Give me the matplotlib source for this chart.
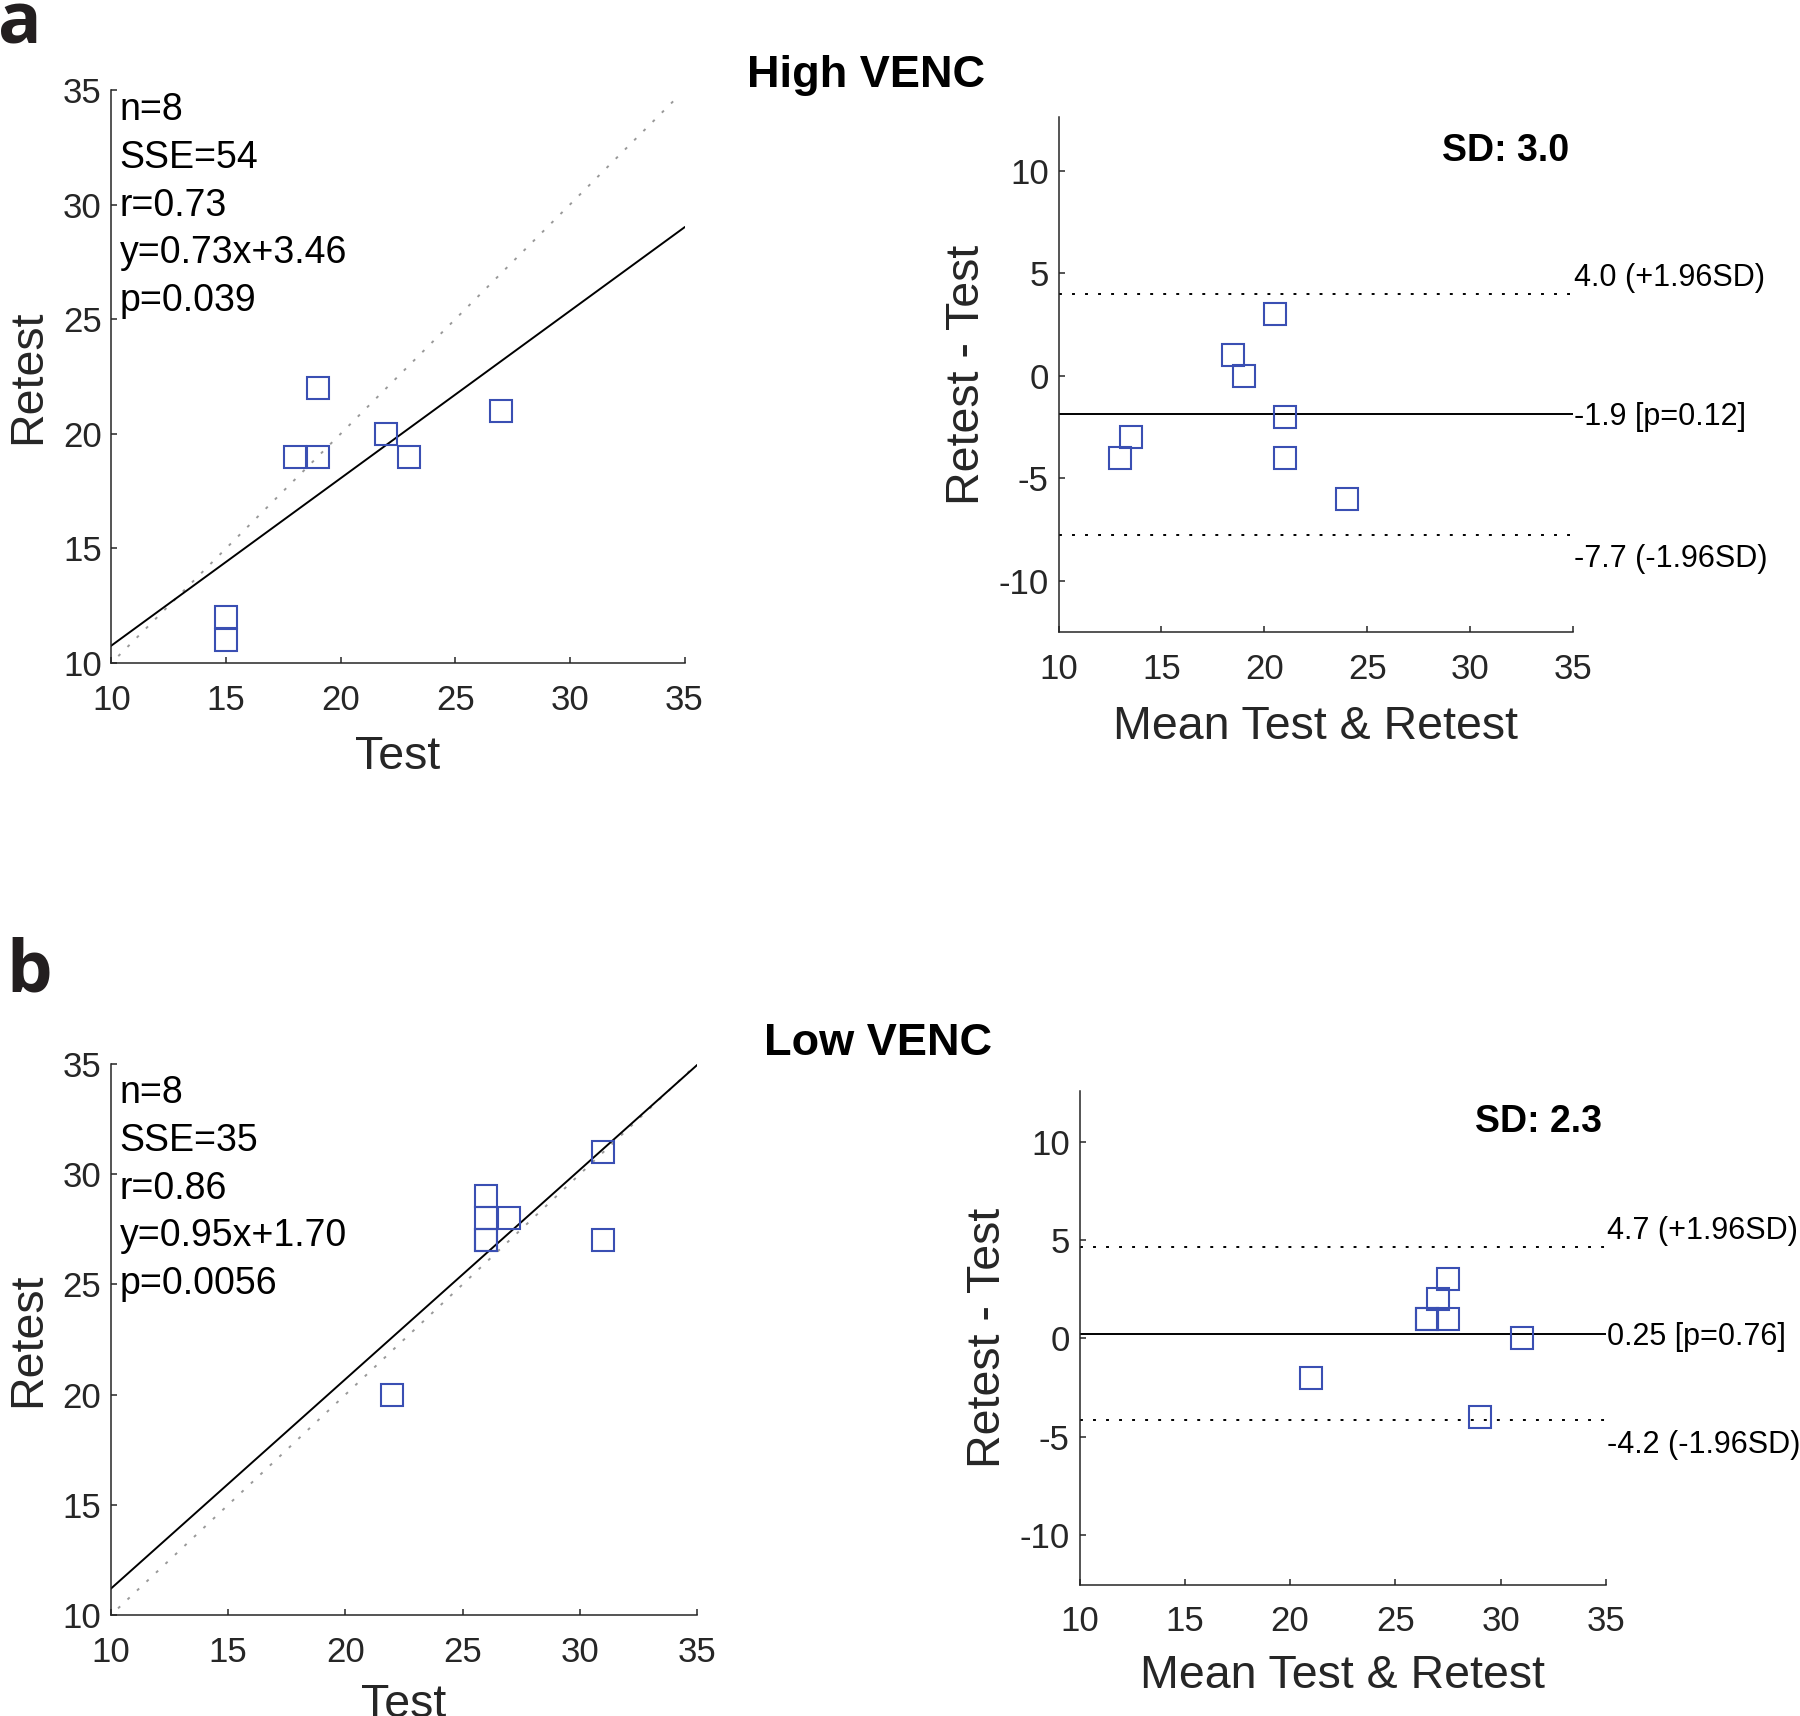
import numpy as np
import matplotlib
matplotlib.use("Agg")
import matplotlib.pyplot as plt

plt.rcParams['font.family'] = ['Liberation Sans', 'DejaVu Sans']
plt.rcParams['axes.unicode_minus'] = False

# ---------------- data ----------------
high_test = [15, 15, 18, 19, 19, 22, 23, 27]
high_retest = [11, 12, 19, 19, 22, 20, 19, 21]
low_test = [22, 26, 26, 26, 26, 27, 31, 31]
low_retest = [20, 27, 27, 28, 29, 28, 31, 27]

titles = ["High VENC", "Low VENC"]
panel_letters = ["a", "b"]
fit_slope = [0.73, 0.95]
fit_intercept = [3.46, 1.70]
stats_text = [
    ["n=8", "SSE=54", "r=0.73", "y=0.73x+3.46", "p=0.039"],
    ["n=8", "SSE=35", "r=0.86", "y=0.95x+1.70", "p=0.0056"],
]
sd_text = ["SD: 3.0", "SD: 2.3"]
ba_labels = [
    ["4.0 (+1.96SD)", "-1.9 [p=0.12]", "-7.7 (-1.96SD)"],
    ["4.7 (+1.96SD)", "0.25 [p=0.76]", "-4.2 (-1.96SD)"],
]
scatter_ticks = [10, 15, 20, 25, 30, 35]
ba_xticks = [10, 15, 20, 25, 30, 35]
ba_yticks = [-10, -5, 0, 5, 10]
identity_range = [10.3, 34.8]
fit_range = [10, 35]

# ---------------- layout ----------------
W, H = 1800, 1716
fig = plt.figure(figsize=(W / 100, H / 100), dpi=100)


def px_axes(l, t, r, b):
    return fig.add_axes([l / W, 1 - b / H, (r - l) / W, (b - t) / H])


blue = '#3A4FB3'
dark = '#262626'
tick_fs = 25
label_fs = 33.5


def style(ax):
    for s in ['top', 'right']:
        ax.spines[s].set_visible(False)
    for s in ['left', 'bottom']:
        ax.spines[s].set_color(dark)
        ax.spines[s].set_linewidth(1.1)
    ax.tick_params(axis='both', direction='in', length=4.5, width=1.1,
                   colors=dark, labelsize=tick_fs, top=False, right=False)
    ax.tick_params(axis='x', pad=15)
    ax.tick_params(axis='y', pad=7)


scatter_boxes = [(111.4, 90, 684.5, 663), (111, 1064, 697, 1615)]
ba_boxes = [(1058.5, 117.5, 1573, 632), (1079.5, 1090.5, 1606, 1584.5)]
title_pos = [(866, 87), (878, 1055)]
letter_pos = [(-2, 43), (6, 992)]
stats_baseline0 = [120, 1103]
xlabel_pad = [13, 10.5]

datasets = [(high_test, high_retest), (low_test, low_retest)]

for i, (test, retest) in enumerate(datasets):
    test = np.array(test, float)
    retest = np.array(retest, float)

    # ---- scatter panel ----
    ax = px_axes(*scatter_boxes[i])
    style(ax)
    ax.plot(identity_range, identity_range, color='#999999', lw=1.4,
            dashes=(1.5, 5.2), zorder=1)
    fx = np.array(fit_range, float)
    ax.plot(fx, fit_slope[i] * fx + fit_intercept[i], color='black', lw=1.4, zorder=2)
    ax.plot(test, retest, 's', mfc='none', mec=blue, ms=15.5, mew=1.5, zorder=3)
    ax.set_xlim(10, 35)
    ax.set_ylim(10, 35)
    ax.set_xticks(scatter_ticks)
    ax.set_yticks(scatter_ticks)
    ax.set_xlabel('Test', fontsize=label_fs, color=dark, labelpad=xlabel_pad[i])
    ax.set_ylabel('Retest', fontsize=label_fs, color=dark, labelpad=9)

    for k, s in enumerate(stats_text[i]):
        yb = stats_baseline0[i] + k * 47.8
        fig.text(119.5 / W, 1 - yb / H, s, fontsize=27, color='black',
                 ha='left', va='baseline')

    # ---- Bland-Altman panel ----
    mean_vals = (test + retest) / 2
    diff_vals = retest - test
    md = diff_vals.mean()
    sd = diff_vals.std(ddof=1)
    upper = md + 1.96 * sd
    lower = md - 1.96 * sd

    bx = px_axes(*ba_boxes[i])
    style(bx)
    bx.axhline(upper, color='black', lw=1.4, dashes=(1.5, 5.2), zorder=1)
    bx.axhline(lower, color='black', lw=1.4, dashes=(1.5, 5.2), zorder=1)
    bx.axhline(md, color='black', lw=1.4, zorder=2)
    bx.plot(mean_vals, diff_vals, 's', mfc='none', mec=blue, ms=15.5, mew=1.5, zorder=3)
    bx.set_xlim(10, 35)
    bx.set_ylim(-12.5, 12.6)
    bx.set_xticks(ba_xticks)
    bx.set_yticks(ba_yticks)
    bx.set_xlabel('Mean Test & Retest', fontsize=label_fs, color=dark,
                  labelpad=xlabel_pad[i] + 1)
    bx.set_ylabel('Retest - Test', fontsize=label_fs, color=dark, labelpad=7)

    for val, lab, off in zip([upper, md, lower], ba_labels[i], [5.5, -8, -23.5]):
        bx.annotate(lab, xy=(35, val), xycoords='data', xytext=(0.5, off),
                    textcoords='offset points', ha='left', va='baseline',
                    fontsize=22, color='black', annotation_clip=False)

    bx.text(0.992, 0.915, sd_text[i], transform=bx.transAxes, ha='right',
            va='baseline', fontsize=27, fontweight='bold', color='black')

    # ---- titles and letters ----
    tx, ty = title_pos[i]
    fig.text(tx / W, 1 - ty / H, titles[i], fontsize=32.5, fontweight='bold',
             ha='center', va='baseline', color='black')
    lx, ly = letter_pos[i]
    fig.text(lx / W, 1 - ly / H, panel_letters[i], fontsize=52, fontweight='bold',
             family=['Open Sans', 'DejaVu Sans'], ha='left', va='baseline',
             color='#231f20')

fig.savefig('out.png', dpi=100, facecolor='white')
